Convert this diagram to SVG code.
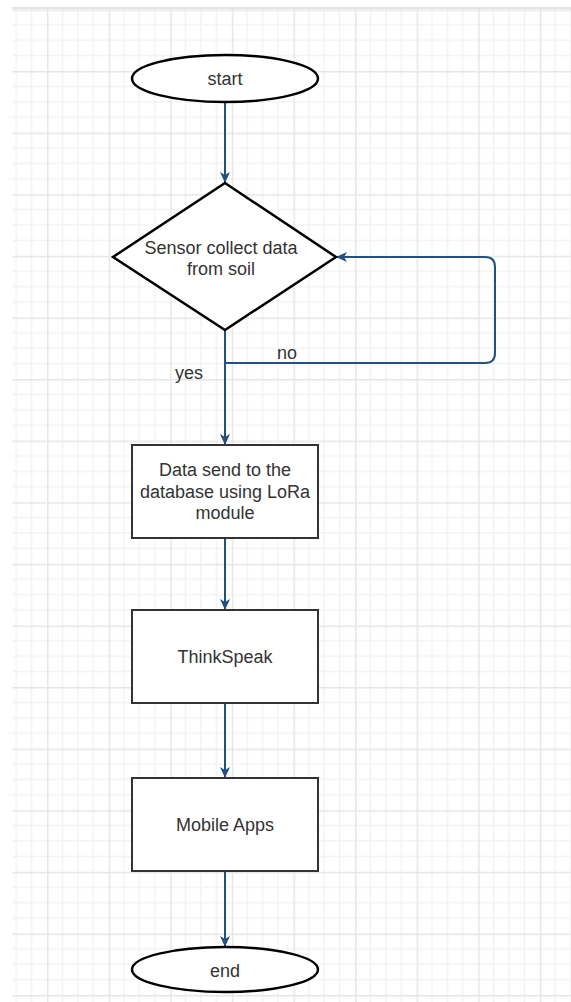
<svg xmlns="http://www.w3.org/2000/svg" width="571" height="1002" viewBox="0 0 571 1002">
  <style>
    .shape { fill: #ffffff; stroke: #000000; stroke-width: 2.5; }
    .box { fill: #ffffff; stroke: #333333; stroke-width: 2; }
    .lbl { font-family: "Liberation Sans", Arial, sans-serif; font-size: 18px; fill: #333333; text-anchor: middle; dominant-baseline: central; }
    .edge { fill: none; stroke: #23507f; stroke-width: 2; }
  </style>
  <defs>
    <pattern id="grid" patternUnits="userSpaceOnUse" x="47" y="71" width="61.6" height="61.6">
      <path d="M15.4,0 V61.6 M30.8,0 V61.6 M46.2,0 V61.6 M0,15.4 H61.6 M0,30.8 H61.6 M0,46.2 H61.6" stroke="#f3f3f3" stroke-width="1.5" fill="none"/>
      <path d="M0.75,0 V61.6 M0,0.75 H61.6" stroke="#e6e6e6" stroke-width="1.5" fill="none"/>
    </pattern>
    <marker id="arrow" markerUnits="userSpaceOnUse" markerWidth="12" markerHeight="12" refX="11" refY="6" orient="auto">
      <path d="M0,1 L11,6 L0,11 L3,6 z" fill="#23507f"/>
    </marker>
  </defs>

  <rect x="0" y="0" width="571" height="1002" fill="#ffffff"/>
  <rect x="12" y="8" width="559" height="994" fill="url(#grid)"/>
  <line x1="12" y1="8" x2="571" y2="8" stroke="#dddddd" stroke-width="1.5"/>

  <g id="connectors">
    <path class="edge" d="M225,102 V183" marker-end="url(#arrow)"/>
    <path class="edge" d="M225,330 V445" marker-end="url(#arrow)"/>
    <path class="edge" d="M225,330 V363 H485 Q495,363 495,353 V267 Q495,257 485,257 H336" marker-end="url(#arrow)"/>
    <path class="edge" d="M225,538 V610" marker-end="url(#arrow)"/>
    <path class="edge" d="M225,703 V778" marker-end="url(#arrow)"/>
    <path class="edge" d="M225,871 V947" marker-end="url(#arrow)"/>
    <text class="lbl" x="287" y="353">no</text>
    <text class="lbl" x="189" y="373">yes</text>
  </g>

  <g id="start">
    <ellipse class="shape" cx="225" cy="78.5" rx="93" ry="23.5"/>
    <text class="lbl" x="225" y="79">start</text>
  </g>

  <g id="decision">
    <polygon class="shape" points="225,183 336,257 225,330 113,257"/>
    <text class="lbl" x="221" y="248">Sensor collect data</text>
    <text class="lbl" x="221" y="269">from soil</text>
  </g>

  <g id="send">
    <rect class="box" x="132" y="445" width="186" height="93"/>
    <text class="lbl" x="225" y="470">Data send to the</text>
    <text class="lbl" x="225" y="492">database using LoRa</text>
    <text class="lbl" x="225" y="513">module</text>
  </g>

  <g id="thinkspeak">
    <rect class="box" x="132" y="610" width="186" height="93"/>
    <text class="lbl" x="225" y="657">ThinkSpeak</text>
  </g>

  <g id="mobile">
    <rect class="box" x="132" y="778" width="186" height="93"/>
    <text class="lbl" x="225" y="825">Mobile Apps</text>
  </g>

  <g id="end">
    <ellipse class="shape" cx="225" cy="969.5" rx="93" ry="22.5"/>
    <text class="lbl" x="225" y="971">end</text>
  </g>
</svg>
